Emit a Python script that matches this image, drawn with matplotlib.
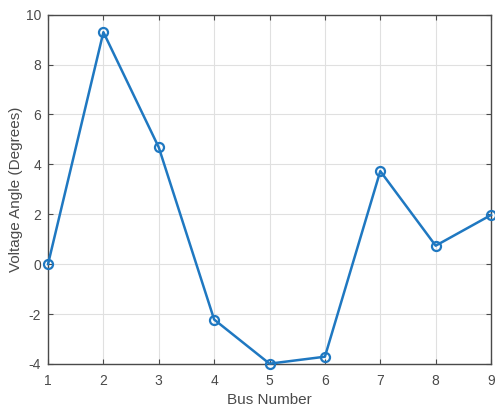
import matplotlib
matplotlib.use('Agg')
import matplotlib.pyplot as plt

matplotlib.rc('font', family=['Liberation Sans', 'DejaVu Sans'], size=10)
matplotlib.rc('axes', unicode_minus=False)

bus = [1, 2, 3, 4, 5, 6, 7, 8, 9]
angle = [0.0, 9.30, 4.68, -2.22, -3.99, -3.71, 3.73, 0.74, 1.97]

AX_COLOR = '#4a4a4a'
LINE_COLOR = '#1f78c1'

fig = plt.figure(figsize=(4.95, 4.08), dpi=100)
ax = fig.add_axes([0.097, 0.108, 0.895, 0.856])

ax.plot(bus, angle, color=LINE_COLOR, linewidth=1.8, marker='o',
        markersize=6.5, markerfacecolor='none', markeredgewidth=1.6,
        clip_on=False, zorder=3)

ax.set_xlim(1, 9)
ax.set_ylim(-4, 10)
ax.set_xticks(range(1, 10))
ax.set_yticks(range(-4, 11, 2))

ax.grid(True, color='#e0e0e0', linewidth=0.8)
ax.set_axisbelow(True)
for s in ax.spines.values():
    s.set_color(AX_COLOR)
    s.set_linewidth(1.0)
ax.tick_params(direction='in', top=True, right=True, length=3.5,
               width=0.8, colors=AX_COLOR, labelsize=10)
ax.tick_params(axis='x', pad=7)
ax.tick_params(axis='y', pad=5)

ax.set_xlabel('Bus Number', fontsize=11, color=AX_COLOR, labelpad=4)
ax.set_ylabel('Voltage Angle (Degrees)', fontsize=11, color=AX_COLOR, labelpad=2)

fig.savefig('out.png', dpi=100)
